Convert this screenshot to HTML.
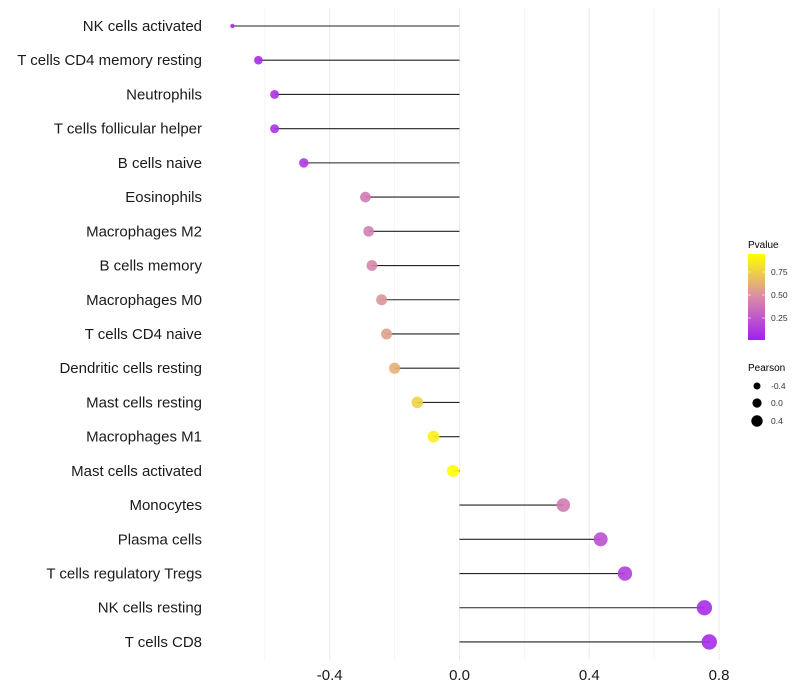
<!DOCTYPE html>
<html><head><meta charset="utf-8"><style>
body{margin:0;background:#fff;}
svg{display:block;font-family:"Liberation Sans",sans-serif;}
</style></head><body>
<svg id="chart" width="800" height="700">
<defs><linearGradient id="pg" x1="0" y1="1" x2="0" y2="0">
<stop offset="0" stop-color="#a020f0"/><stop offset="0.5" stop-color="#d98ca8"/><stop offset="1" stop-color="#ffff00"/>
</linearGradient></defs>
<g id="grid"></g>
<g id="marks"></g>
<g id="ylabels"></g>
<g id="xlabels"></g>
<g>
<text x="748" y="248" font-size="10" fill="#000">Pvalue</text>
<rect x="748" y="254" width="17" height="86" fill="url(#pg)"/>
<line x1="748" x2="751" y1="272" y2="272" stroke="#fff" opacity="0.6"/><line x1="762" x2="765" y1="272" y2="272" stroke="#fff" opacity="0.6"/>
<line x1="748" x2="751" y1="295" y2="295" stroke="#fff" opacity="0.6"/><line x1="762" x2="765" y1="295" y2="295" stroke="#fff" opacity="0.6"/>
<line x1="748" x2="751" y1="318" y2="318" stroke="#fff" opacity="0.6"/><line x1="762" x2="765" y1="318" y2="318" stroke="#fff" opacity="0.6"/>
<text x="771" y="275" font-size="8.5" fill="#333">0.75</text>
<text x="771" y="298" font-size="8.5" fill="#333">0.50</text>
<text x="771" y="321" font-size="8.5" fill="#333">0.25</text>
</g>
<g>
<text x="748" y="371" font-size="10" fill="#000">Pearson</text>
<circle cx="757" cy="386" r="3.5" fill="#000"/><text x="771" y="389" font-size="8.5" fill="#333">-0.4</text>
<circle cx="757" cy="403" r="4.6" fill="#000"/><text x="771" y="406" font-size="8.5" fill="#333">0.0</text>
<circle cx="757" cy="421" r="5.7" fill="#000"/><text x="771" y="424" font-size="8.5" fill="#333">0.4</text>
</g>
</svg>
<script>
const categories=["NK cells activated","T cells CD4 memory resting","Neutrophils","T cells follicular helper","B cells naive","Eosinophils","Macrophages M2","B cells memory","Macrophages M0","T cells CD4 naive","Dendritic cells resting","Mast cells resting","Macrophages M1","Mast cells activated","Monocytes","Plasma cells","T cells regulatory  Tregs","NK cells resting","T cells CD8"];
const pearson=[-0.70,-0.62,-0.57,-0.57,-0.48,-0.29,-0.28,-0.27,-0.24,-0.225,-0.20,-0.13,-0.08,-0.02,0.32,0.435,0.51,0.755,0.77];
const pvalues=[0.02,0.03,0.06,0.06,0.1,0.4,0.42,0.45,0.52,0.56,0.62,0.76,0.88,0.946,0.4,0.2,0.12,0.04,0.03];
const xTicks=[-0.4,0,0.4,0.8];
const xTickLabels=["-0.4","0.0","0.4","0.8"];
const xMinor=[-0.6,-0.2,0.2,0.6];
const NS="http://www.w3.org/2000/svg";
function xs(v){return 459.5+v*324.4;}
function ys(i){return 26+i*34.22;}
function rs(p){const a=30+26.4*p;return p<-0.65?2.2:Math.max(2.2,Math.sqrt(a)+0.6);}
function lerp(a,b,t){return a.map((x,k)=>Math.round(x+(b[k]-x)*t));}
function col(p){const lo=0.011,hi=0.946;let t=Math.min(1,Math.max(0,(p-lo)/(hi-lo)));
const A=[165,40,235],M=[217,140,168],B=[255,255,0];
const c=t<0.5?lerp(A,M,t*2):lerp(M,B,(t-0.5)*2);return `rgb(${c[0]},${c[1]},${c[2]})`;}
function mk(tag,at,parent){const e=document.createElementNS(NS,tag);for(const k in at)e.setAttribute(k,at[k]);parent.appendChild(e);return e;}
const grid=document.getElementById('grid'),marks=document.getElementById('marks'),yl=document.getElementById('ylabels'),xl=document.getElementById('xlabels');
xMinor.forEach(v=>{const l=mk('line',{x1:xs(v),x2:xs(v),y1:8,y2:660,stroke:'#f2f2f2','stroke-width':0.7},grid);

});
xTicks.forEach((v,i)=>{const l=mk('line',{x1:xs(v),x2:xs(v),y1:8,y2:660,stroke:'#ebebeb','stroke-width':1},grid);


const t=mk('text',{x:xs(v),y:680,'font-size':15,'text-anchor':'middle',fill:'#1a1a1a'},xl);t.textContent=xTickLabels[i];

});
categories.forEach((c,i)=>{const y=ys(i);
const t=mk('text',{x:202,y:y+5,'font-size':15,'text-anchor':'end',fill:'#1a1a1a'},yl);t.textContent=c;


const s=mk('line',{x1:xs(0),x2:xs(pearson[i]),y1:y,y2:y,stroke:'#222','stroke-width':1.1},marks);


const d=mk('circle',{cx:xs(pearson[i]),cy:y,r:rs(pearson[i]),fill:col(pvalues[i]),opacity:0.9},marks);

});
</script>
</body></html>
